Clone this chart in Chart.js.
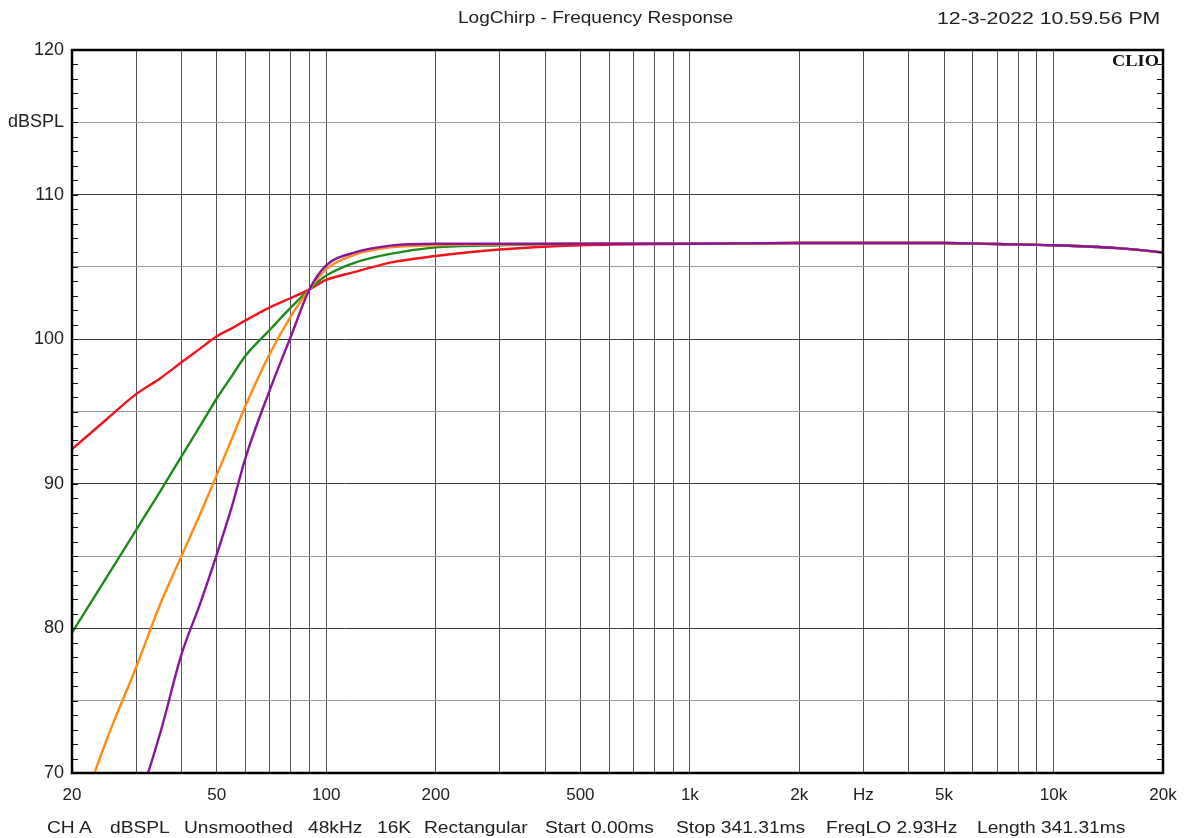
<html lang="en">
<head>
  <meta charset="UTF-8">
  <title>LogChirp - Frequency Response</title>
  <style>
    * {box-sizing:border-box;margin:0;padding:0;}
    body {background:#fff;width:1189px;height:838px;overflow:hidden;font-family:'Liberation Sans',Arial,sans-serif;color:#222;}
    .wrap {position:relative;width:1189px;height:838px;}
    .wrap canvas {position:absolute;left:0;top:0;}
    .txt {position:absolute;font-size:16px;white-space:nowrap;transform-origin:left center;}
    .title {left:458px;top:9px;transform:scaleX(1.19);}
    .stamp {left:937px;top:9px;font-size:17px;transform:scaleX(1.25);}
    .clio {position:absolute;left:1112px;top:51px;font-family:'Liberation Serif','DejaVu Serif',serif;font-weight:bold;font-size:17px;transform-origin:left center;transform:scaleX(1.08);color:#111;}
    .foot {top:819px;transform:scaleX(1.2);}
  </style>
</head>
<body>
  <div class="wrap">
    <canvas id="fr" width="1189" height="838"></canvas>
    <div class="txt title">LogChirp - Frequency Response</div>
    <div class="txt stamp">12-3-2022 10.59.56 PM</div>
    <div class="clio">CLIO</div>
    <div class="txt foot" style="left:47px">CH A</div>
    <div class="txt foot" style="left:110px">dBSPL</div>
    <div class="txt foot" style="left:184px">Unsmoothed</div>
    <div class="txt foot" style="left:308px">48kHz</div>
    <div class="txt foot" style="left:377px">16K</div>
    <div class="txt foot" style="left:424px">Rectangular</div>
    <div class="txt foot" style="left:545px">Start 0.00ms</div>
    <div class="txt foot" style="left:676px">Stop 341.31ms</div>
    <div class="txt foot" style="left:826px">FreqLO 2.93Hz</div>
    <div class="txt foot" style="left:977px">Length 341.31ms</div>
  </div>
  <script src="https://cdn.jsdelivr.net/npm/chart.js@4.4.0/dist/chart.umd.min.js"></script>
  <script>
    // frequencies (Hz) the curves were read at
    const freqs  = [20,25,30,35,40,45,50,55,60,70,80,90,100,120,150,200,300,500,1000,2000,5000,7000,10000,15000,20000];
    const red    = [92.4,94.5,96.2,97.3,98.4,99.35,100.2,100.75,101.3,102.2,102.85,103.45,104.1,104.65,105.3,105.75,106.2,106.5,106.6,106.65,106.65,106.58,106.5,106.3,106.0];
    const green  = [79.7,83.6,86.8,89.5,91.9,94.0,95.9,97.45,98.85,100.65,102.2,103.45,104.4,105.3,105.9,106.35,106.5,106.6,106.6,106.65,106.65,106.58,106.5,106.3,106.0];
    const orange = [65.6,72.4,77.3,81.7,85.0,87.9,90.6,93.1,95.4,99.0,101.6,103.45,104.85,105.85,106.35,106.5,106.55,106.6,106.6,106.65,106.65,106.58,106.5,106.3,106.0];
    const purple = [57.0,62.5,67.5,72.8,78.2,81.7,85.1,88.4,91.8,96.5,100.2,103.45,105.1,106.0,106.47,106.6,106.6,106.6,106.6,106.65,106.65,106.58,106.5,106.3,106.0];

    // x grid lines and their labels
    const gridFreqs = [20,30,40,50,60,70,80,90,100,200,300,400,500,600,700,800,900,1000,2000,3000,4000,5000,6000,7000,8000,9000,10000,20000];
    const xLabels = {20:'20',50:'50',100:'100',200:'200',500:'500',1000:'1k',2000:'2k',3000:'Hz',5000:'5k',10000:'10k',20000:'20k'};
    const yLabels = {70:'70',80:'80',90:'90',100:'100',110:'110',115:'dBSPL',120:'120'};

    function pts(arr){ return freqs.map((f,i)=>({x:f,y:arr[i]})); }

    const frame = {
      id:'frame',
      afterDraw(chart){
        const {ctx, chartArea:a, scales} = chart;
        ctx.save();
        ctx.strokeStyle = '#111';
        ctx.lineWidth = 1;
        for(let v=71; v<120; v++){
          const y = Math.round(scales.y.getPixelForValue(v)) + 0.5;
          ctx.beginPath();
          ctx.moveTo(a.left, y); ctx.lineTo(a.left+6, y);
          ctx.moveTo(a.right-6, y); ctx.lineTo(a.right, y);
          ctx.stroke();
        }
        ctx.lineWidth = 2.5;
        ctx.strokeStyle = '#000';
        ctx.strokeRect(a.left, a.top, a.right-a.left, a.bottom-a.top);
        ctx.restore();
      }
    };

    const line = (data,color,order)=>({data:pts(data),borderColor:color,borderWidth:2.4,pointRadius:0,
      cubicInterpolationMode:'monotone',fill:false,order:order});

    new Chart(document.getElementById('fr'),{
      type:'line',
      data:{datasets:[
        line(purple,'#8a14a0',1),
        line(orange,'#ff8c14',2),
        line(green,'#1e8a1e',3),
        line(red,'#f0141e',4)
      ]},
      options:{
        responsive:false,
        animation:false,
        events:[],
        layout:{padding:{left:0,top:50,right:26,bottom:0}},
        plugins:{legend:{display:false},tooltip:{enabled:false}},
        scales:{
          x:{
            type:'logarithmic',min:20,max:20000,
            afterBuildTicks(s){ s.ticks = gridFreqs.map(v=>({value:v})); },
            afterFit(s){ s.height = 65; },
            border:{display:false},
            grid:{color:'#555',lineWidth:1,drawTicks:false},
            ticks:{autoSkip:false,maxRotation:0,padding:12,color:'#222',
              font:{family:"'Liberation Sans', Arial, sans-serif",size:17},
              callback:v=>xLabels[v] || ''}
          },
          y:{
            type:'linear',min:70,max:120,
            afterFit(s){ s.width = 72; },
            border:{display:false},
            grid:{drawTicks:false,lineWidth:1,
              color:c=>(c.tick && c.tick.value % 10 === 0) ? '#3c3c3c' : '#9a9a9a'},
            ticks:{stepSize:5,padding:8,color:'#222',
              font:{family:"'Liberation Sans', Arial, sans-serif",size:18},
              callback:v=>yLabels[v] || ''}
          }
        }
      },
      plugins:[frame]
    });
  </script>
</body>
</html>
